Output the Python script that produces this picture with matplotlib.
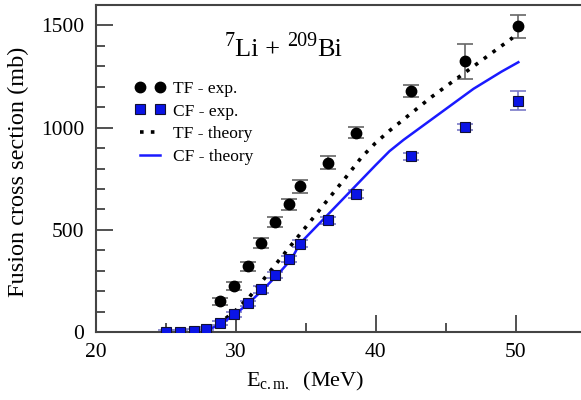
import matplotlib
matplotlib.use("Agg")
import matplotlib.pyplot as plt
from matplotlib.ticker import MultipleLocator
from matplotlib.transforms import offset_copy

plt.rcParams["font.family"] = ["Liberation Serif", "DejaVu Serif"]
plt.rcParams["mathtext.fontset"] = "custom"
plt.rcParams["mathtext.rm"] = "Liberation Serif"
plt.rcParams["mathtext.it"] = "Liberation Serif:italic"

# experimental total fusion (TF)
tf_e = [28.9, 29.9, 30.9, 31.8, 32.8, 33.8, 34.6, 36.6, 38.6, 42.5, 46.4, 50.2]
tf_sig = [150, 224, 322, 434, 537, 624, 712, 829, 976, 1180, 1325, 1495]
tf_err = [18, 20, 22, 24, 25, 27, 30, 30, 28, 30, 85, 55]

# experimental complete fusion (CF)
cf_e = [25.0, 26.0, 27.0, 27.9, 28.9, 29.9, 30.9, 31.8, 32.8, 33.8, 34.6,
        36.6, 38.6, 42.5, 46.4, 50.2]
cf_sig = [1, 2, 5, 17, 45, 87, 140, 208, 277, 357, 433, 547, 676, 860, 1002, 1132]
cf_err = [8, 8, 8, 8, 10, 12, 14, 15, 15, 16, 16, 17, 18, 16, 16, 47]

# theory curves
tf_th_e = [28, 29, 30, 31, 32, 33, 34, 35, 36, 37, 38, 39, 40, 41, 42, 43,
           44, 45, 46, 47, 48, 49, 49.8]
tf_th_sig = [10, 50, 105, 172, 257, 342, 427, 512, 597, 682, 767, 855, 925,
             985, 1040, 1095, 1150, 1200, 1250, 1300, 1350, 1400, 1440]
cf_th_e = [28, 29, 30, 31, 32, 33, 34, 34.6, 36, 37, 38, 39, 40, 41, 42, 43,
           44, 45, 46, 47, 48, 49, 50.2]
cf_th_sig = [8, 42, 88, 145, 210, 280, 357, 433, 532, 603, 674, 745, 816, 885,
             940, 990, 1040, 1090, 1140, 1190, 1232, 1274, 1320]

# title pieces: (text, fontsize, raise in points)
title_parts = [("7", 14.5, 7), ("Li + ", 19, 0), ("209", 14.5, 7), ("Bi", 19, 0)]

fig = plt.figure(figsize=(5.81, 4.0), dpi=100)
ax = fig.add_axes([0.1644, 0.17, 0.8434, 0.8175])

ax.errorbar(tf_e, tf_sig, yerr=tf_err, fmt="none", ecolor="#666666",
            elinewidth=1.2, capsize=6, capthick=1.2, zorder=2)
ax.errorbar(cf_e, cf_sig, yerr=cf_err, fmt="none", ecolor="#7a7ac8",
            elinewidth=1.2, capsize=6, capthick=1.2, zorder=2)
ax.plot(tf_th_e, tf_th_sig, ls=(0, (1, 2)), color="black", lw=2.6,
        label="TF - theory", zorder=3)
ax.plot(cf_th_e, cf_th_sig, ls="-", color="#1a1aff", lw=1.8,
        label="CF - theory", zorder=3)
ax.plot(tf_e, tf_sig, "o", color="black", ms=7.5, label="TF - exp.", zorder=4)
ax.plot(cf_e, cf_sig, "s", mfc="#0a14e6", mec="#111133", mew=0.8, ms=7.5,
        label="CF - exp.", zorder=4)

ax.set_xlim(20, 55)
ax.set_ylim(0, 1600)
ax.xaxis.set_major_locator(MultipleLocator(10))
ax.xaxis.set_minor_locator(MultipleLocator(5))
ax.yaxis.set_major_locator(MultipleLocator(500))
ax.yaxis.set_minor_locator(MultipleLocator(100))
ax.tick_params(which="both", direction="in", width=1.2, color="#333333",
               labelsize=15.5)
ax.tick_params(which="major", length=12)
ax.tick_params(axis="x", which="major", pad=8)
ax.tick_params(axis="y", which="major", pad=8)
ax.tick_params(which="minor", length=6.5)
for side in ["left", "bottom", "top"]:
    ax.spines[side].set_linewidth(1.5)
    ax.spines[side].set_color("#444444")
ax.spines["right"].set_visible(False)

ax.set_xlabel(r"E$_{\rm c.m.}$  (MeV)", fontsize=16)
ax.xaxis.set_label_coords(15 / 35, -0.115)
ax.set_ylabel("Fusion cross section (mb)", fontsize=17.5)
ax.yaxis.set_label_coords(-0.135, 0.49)

# title with larger superscripts, placed piece by piece
renderer = fig.canvas.get_renderer()
x_pt = 0.0
for txt, fs, rise in title_parts:
    tr = offset_copy(ax.transAxes, fig=fig, x=x_pt, y=rise, units="points")
    t = ax.text(0.264, 0.845, txt, transform=tr, fontsize=fs,
                ha="left", va="baseline")
    x_pt += t.get_window_extent(renderer).width * 72.0 / fig.dpi

handles, labels = ax.get_legend_handles_labels()
order = [2, 3, 0, 1]
ax.legend([handles[i] for i in order], [labels[i] for i in order],
          loc="upper left", bbox_to_anchor=(0.065, 0.79), frameon=False,
          numpoints=2, fontsize=12.5, handlelength=1.8, handletextpad=0.45,
          labelspacing=0.38, borderaxespad=0)

fig.savefig("out.png", dpi=100)
